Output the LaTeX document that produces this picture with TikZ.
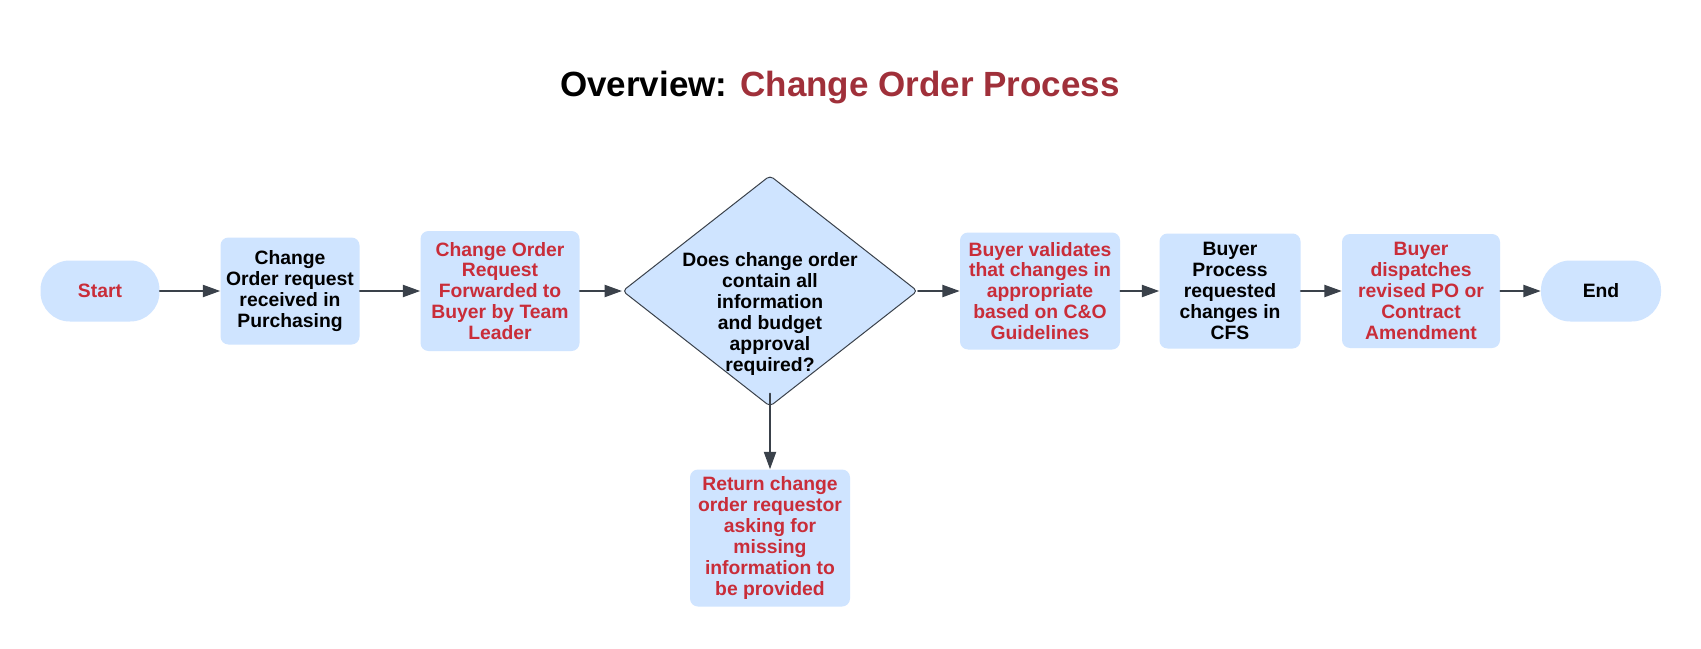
\documentclass[tikz,border=0pt]{standalone}
\usepackage{fontspec}
\setmainfont{Liberation Sans}
\usetikzlibrary{arrows.meta,shapes.geometric}

\definecolor{boxblue}{RGB}{207,228,255}
\definecolor{stepred}{RGB}{201,45,57}
\definecolor{titlered}{RGB}{160,48,58}
\definecolor{linegray}{RGB}{58,65,74}

\newcommand{\boxfont}{\bfseries\fontsize{14.5pt}{15.7pt}\selectfont}
\newcommand{\titlefont}{\bfseries\fontsize{26.25pt}{30pt}\selectfont}

\tikzset{
    flowbox/.style={fill=boxblue, rounded corners=6pt, align=center,
        inner sep=2pt, font=\boxfont},
    terminal/.style={flowbox, rounded corners=22pt,
        minimum width=89.25pt, minimum height=45.75pt},
    decision/.style={diamond, draw=linegray, line width=0.75pt,
        fill=boxblue, rounded corners=3pt, inner sep=0pt,
        minimum width=221.25pt, minimum height=173.25pt},
    redtext/.style={text=stepred},
    flow/.style={->, draw=linegray, line width=1.5pt}
}

\begin{document}
\begin{tikzpicture}[
    x=0.75pt,
    y=-0.75pt,
    >={Triangle[length=13pt,width=9pt]},
    line cap=round,
    line join=round
]

%------------------------------------------------
% Page frame
%------------------------------------------------
\fill[white] (0,0) rectangle (1701,649);
\path[use as bounding box] (0,0) rectangle (1701,649);

%------------------------------------------------
% Title
%------------------------------------------------
\node[font=\titlefont] (title) at (840,88)
    {Overview: \textcolor{titlered}{Change Order Process}};

%------------------------------------------------
% Main row
%------------------------------------------------
\node[terminal, redtext] (start) at (100,291) {Start};

\node[flowbox, minimum width=104.25pt, minimum height=80.25pt]
    (received) at (290,291)
    {Change\\Order request\\received in\\Purchasing};

\node[flowbox, redtext, minimum width=119.25pt, minimum height=90pt]
    (forwarded) at (500,291)
    {Change Order\\Request\\Forwarded to\\Buyer by Team\\Leader};

% decision diamond, text set apart (it overflows the shape)
\node[decision] (check) at (770,291) {};
\node[align=center, font=\boxfont] (checktext) at (770,314)
    {Does change order\\contain all\\information\\and budget\\approval\\required?};

\node[flowbox, redtext, minimum width=120pt, minimum height=87.75pt]
    (validates) at (1040,291)
    {Buyer validates\\that changes in\\appropriate\\based on C\&O\\Guidelines};

\node[flowbox, minimum width=105.75pt, minimum height=86.25pt]
    (process) at (1230,291)
    {Buyer\\Process\\requested\\changes in\\CFS};

\node[flowbox, redtext, minimum width=118.5pt, minimum height=85.5pt]
    (dispatch) at (1421,291)
    {Buyer\\dispatches\\revised PO or\\Contract\\Amendment};

\node[terminal, minimum width=90pt] (end) at (1601,291) {End};

%------------------------------------------------
% Branch below the decision
%------------------------------------------------
\node[flowbox, redtext, minimum width=120pt, minimum height=102.75pt]
    (return) at (770,538)
    {Return change\\order requestor\\asking for\\missing\\information to\\be provided};

%------------------------------------------------
% Connectors
%------------------------------------------------
\draw[flow] (start) -- (received);
\draw[flow] (received) -- (forwarded);
\draw[flow] (forwarded) -- (check);
\draw[flow] (check) -- (validates);
\draw[flow] (validates) -- (process);
\draw[flow] (process) -- (dispatch);
\draw[flow] (dispatch) -- (end);
\draw[flow, shorten <=-10pt] (check) -- (return);

\end{tikzpicture}
\end{document}
